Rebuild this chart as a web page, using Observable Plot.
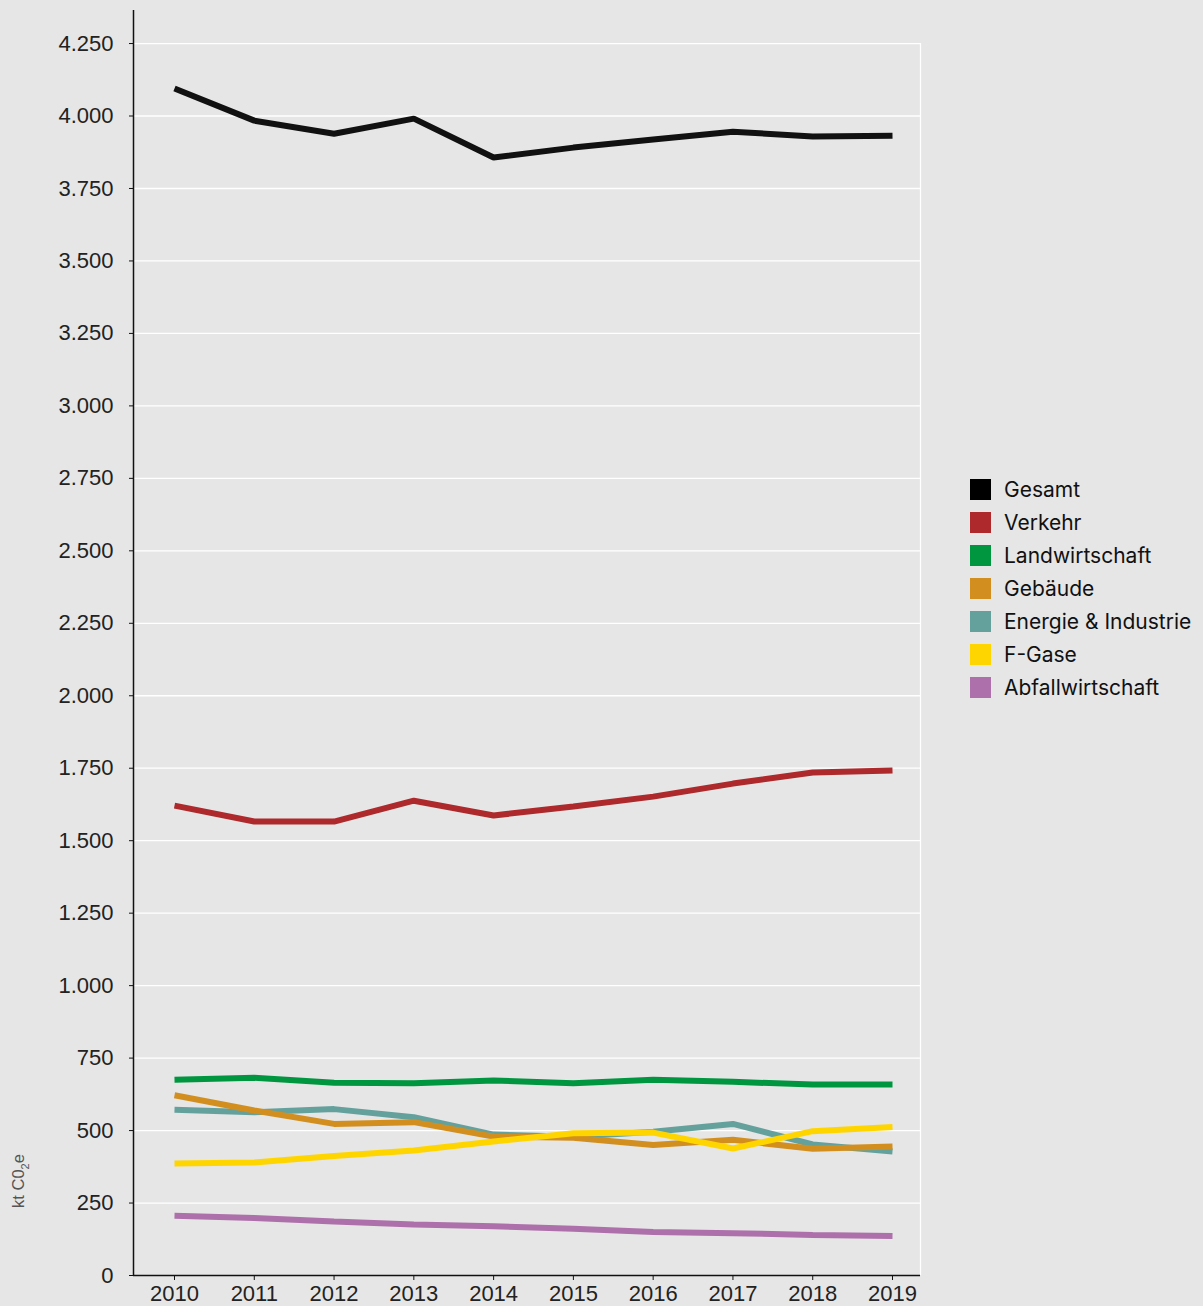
<!DOCTYPE html>
<html>
<head>
<meta charset="utf-8">
<script src="https://cdn.jsdelivr.net/npm/d3@7"></script>
<script src="https://cdn.jsdelivr.net/npm/@observablehq/plot@0.6"></script>
<style>
  html, body { margin: 0; padding: 0; background: #e6e6e6; }
  #wrap { position: relative; width: 1203px; height: 1306px; overflow: hidden; }
  #legend { position: absolute; left: 970px; top: 473px; font-family: Inter, Roboto, "Noto Sans", sans-serif; font-size: 21px; color: #111; }
  .item { display: flex; align-items: center; height: 33px; }
  .sw { width: 21px; height: 21px; margin-right: 13px; }
  #ylab { position: absolute; left: 20px; top: 1181px; transform: translate(-50%, -50%) rotate(-90deg); font-family: "Liberation Sans", Arial, sans-serif; font-size: 16.5px; color: #555; white-space: nowrap; }
</style>
</head>
<body>
<div id="wrap">
  <div id="chart"></div>
  <div id="legend"></div>
  <div id="ylab">kt C0<sub style="font-size:11px">2</sub>e</div>
</div>
<script>
const years = [2010, 2011, 2012, 2013, 2014, 2015, 2016, 2017, 2018, 2019];
const seriesNames = ["Gesamt", "Verkehr", "Landwirtschaft", "Gebäude", "Energie & Industrie", "F-Gase", "Abfallwirtschaft"];
const seriesColors = ["#111111", "#ad292b", "#00963f", "#d28f1f", "#64a19d", "#ffd500", "#ad70aa"];
const gesamt = [4095, 3984, 3939, 3991, 3857, 3891, 3919, 3946, 3929, 3932];
const verkehr = [1621, 1566, 1566, 1638, 1587, 1618, 1652, 1697, 1735, 1742];
const landwirtschaft = [675, 682, 665, 663, 673, 663, 675, 668, 659, 659];
const gebaeude = [622, 569, 523, 529, 479, 475, 450, 468, 437, 445];
const energie = [572, 563, 574, 546, 486, 479, 496, 523, 452, 428];
const fgase = [386, 390, 412, 431, 462, 491, 493, 438, 498, 512];
const abfall = [206, 198, 186, 176, 170, 161, 150, 146, 140, 136];
const yTicks = [0, 250, 500, 750, 1000, 1250, 1500, 1750, 2000, 2250, 2500, 2750, 3000, 3250, 3500, 3750, 4000, 4250];

const valuesByName = {
  "Gesamt": gesamt, "Verkehr": verkehr, "Landwirtschaft": landwirtschaft,
  "Gebäude": gebaeude, "Energie & Industrie": energie, "F-Gase": fgase, "Abfallwirtschaft": abfall
};
// drawing order (later on top)
const drawOrder = ["Abfallwirtschaft", "Energie & Industrie", "Gebäude", "F-Gase", "Landwirtschaft", "Verkehr", "Gesamt"];
const data = drawOrder.flatMap(name => years.map((year, i) => ({ series: name, year, value: valuesByName[name][i] })));

const fmt = d => String(d).replace(/\B(?=(\d{3})+(?!\d))/g, ".");
const xMin = 2009.486, xMax = 2019.351, yTop = 4364;

const chart = Plot.plot({
  width: 1203,
  height: 1306,
  marginLeft: 133,
  marginRight: 283,
  marginTop: 10,
  marginBottom: 31,
  style: { background: "transparent", fontFamily: "'Liberation Sans', Arial, sans-serif", fontSize: "22px", color: "#222", overflow: "visible" },
  x: { type: "linear", domain: [xMin, xMax], label: null },
  y: { domain: [0, yTop], label: null },
  color: { domain: seriesNames, range: seriesColors },
  marks: [
    Plot.ruleY(yTicks.filter(d => d > 0), { stroke: "#ffffff", strokeWidth: 1.3 }),
    Plot.ruleX([xMax], { y1: 0, y2: 4250, stroke: "#ffffff", strokeWidth: 1.3 }),
    Plot.line(data, { x: "year", y: "value", z: "series", stroke: "series", strokeWidth: 6, strokeLinecap: "butt", strokeLinejoin: "miter" }),
    Plot.ruleX([xMin], { y1: 0, y2: yTop, stroke: "#111", strokeWidth: 1.5 }),
    Plot.ruleY([0], { stroke: "#111", strokeWidth: 1.5 }),
    Plot.axisY({ ticks: yTicks, tickFormat: fmt, tickSize: 4, tickPadding: 16, label: null, stroke: "#111", fill: "#222" }),
    Plot.axisX({ ticks: years, tickFormat: d => String(d), tickSize: 5, tickPadding: 5, label: null, stroke: "#111", fill: "#222" })
  ]
});
document.getElementById("chart").appendChild(chart);

const legend = document.getElementById("legend");
seriesNames.forEach((name, i) => {
  const item = document.createElement("div");
  item.className = "item";
  const sw = document.createElement("div");
  sw.className = "sw";
  sw.style.background = i === 0 ? "#000" : seriesColors[i];
  const label = document.createElement("span");
  label.textContent = name;
  item.appendChild(sw);
  item.appendChild(label);
  legend.appendChild(item);
});
</script>
</body>
</html>
